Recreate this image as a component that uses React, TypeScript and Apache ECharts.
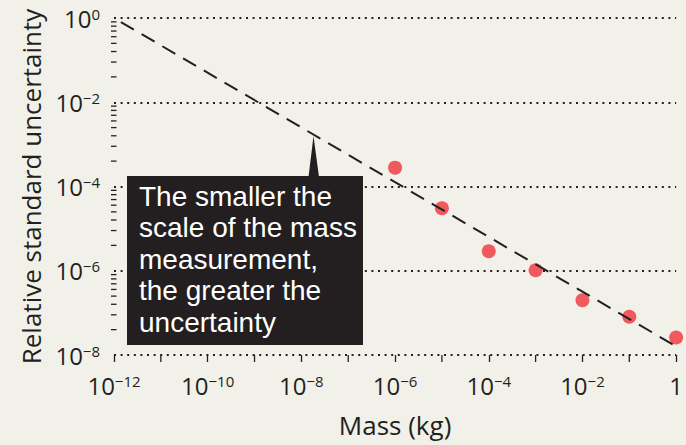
import React, { useEffect, useRef } from 'react';
import * as echarts from 'echarts';

// ---- data ----
const massKg = [1e-6, 1e-5, 1e-4, 1e-3, 1e-2, 1e-1, 1];
const relUncertainty = [2.8e-4, 3.05e-5, 2.9e-6, 1.03e-6, 2.0e-7, 8.1e-8, 2.6e-8];
const trendMass = [1e-12, 1];
const trendUncertainty = [1, 1.6e-8];
const massAxisRange = [1e-12, 1];
const uncAxisRange = [1e-8, 1];
const xOddDecadeTicks = [1e-11, 1e-9, 1e-7, 1e-5, 1e-3, 1e-1];
const yMinorTicks = [
  4e-8, 9e-8, 1.6e-7, 2.5e-7, 3.6e-7, 4.9e-7, 6.4e-7, 8.1e-7,
  4e-6, 9e-6, 1.6e-5, 2.5e-5, 3.6e-5, 4.9e-5, 6.4e-5, 8.1e-5,
  4e-4, 9e-4, 1.6e-3, 2.5e-3, 3.6e-3, 4.9e-3, 6.4e-3, 8.1e-3,
  0.04, 0.09, 0.16, 0.25, 0.36, 0.49, 0.64, 0.81,
];
const annotationLines = [
  'The smaller the',
  'scale of the mass',
  'measurement,',
  'the greater the',
  'uncertainty',
];
const xAxisName = 'Mass (kg)';
const yAxisName = 'Relative standard uncertainty';

const ink = '#231f20';
const bg = '#f2f1e9';
const dotRed = '#f05a5e';
const FONT = '"Open Sans", "Liberation Sans", Arial, sans-serif';
const NOTE_FONT = '"Liberation Sans", Arial, sans-serif';

function powLabel(v: number, oneAsPlain: boolean) {
  const e = Math.round(Math.log10(v));
  if (e === 0 && oneAsPlain) return '{b|1}';
  if (e === 0) return '{b|10}{s|0}';
  return '{b|10}{s|\u2212' + -e + '}';
}

const rich = {
  b: { fontSize: 24, fontFamily: FONT, color: ink },
  s: { fontSize: 15, fontFamily: FONT, color: ink, verticalAlign: 'top' as const },
};

export default function App() {
  const ref = useRef<HTMLDivElement>(null);
  useEffect(() => {
    document.body.style.margin = '0';
    const chart = echarts.init(ref.current!, undefined, { renderer: 'svg' });
    const option: any = {
      animation: false,
      backgroundColor: bg,
      grid: { left: 114, right: 7, top: 18, bottom: 90 },
      xAxis: {
        type: 'log',
        logBase: 100,
        min: massAxisRange[0],
        max: massAxisRange[1],
        name: xAxisName,
        nameLocation: 'middle',
        nameGap: 57,
        nameTextStyle: { fontSize: 26, fontFamily: FONT, color: ink },
        axisLine: { show: false },
        axisTick: { show: true, length: 7, lineStyle: { color: ink, width: 1.3 } },
        splitLine: { show: false },
        axisLabel: {
          margin: 18,
          formatter: (v: number) => powLabel(v, true),
          rich,
        },
      },
      yAxis: {
        type: 'log',
        logBase: 100,
        min: uncAxisRange[0],
        max: uncAxisRange[1],
        name: yAxisName,
        nameLocation: 'middle',
        nameGap: 70,
        nameTextStyle: { fontSize: 26, fontFamily: FONT, color: ink },
        axisLine: { show: false },
        axisTick: { show: false },
        splitLine: {
          show: true,
          lineStyle: { color: ink, width: 2, type: [2, 4.6] },
        },
        axisLabel: {
          margin: 14,
          formatter: (v: number) => powLabel(v, false),
          rich,
        },
      },
      series: [
        {
          type: 'custom',
          silent: true,
          clip: false,
          z: 3,
          data: yMinorTicks.map((v) => [massAxisRange[0], v]),
          renderItem: (_p: any, api: any) => {
            const p = api.coord([api.value(0), api.value(1)]);
            return {
              type: 'line',
              shape: { x1: p[0] - 3, y1: p[1], x2: p[0] + 2.5, y2: p[1] },
              style: { stroke: ink, lineWidth: 1.3 },
            };
          },
        },
        {
          type: 'custom',
          silent: true,
          clip: false,
          z: 3,
          data: xOddDecadeTicks.map((v) => [v, uncAxisRange[0]]),
          renderItem: (_p: any, api: any) => {
            const p = api.coord([api.value(0), api.value(1)]);
            return {
              type: 'line',
              shape: { x1: p[0], y1: p[1], x2: p[0], y2: p[1] + 7 },
              style: { stroke: ink, lineWidth: 1.3 },
            };
          },
        },
        {
          type: 'scatter',
          data: massKg.map((m, i) => [m, relUncertainty[i]]),
          symbol: 'circle',
          symbolSize: 14,
          itemStyle: { color: dotRed, opacity: 1 },
          z: 4,
        },
        {
          type: 'line',
          data: trendMass.map((m, i) => [m, trendUncertainty[i]]),
          symbol: 'none',
          lineStyle: { color: ink, width: 2, type: [15, 9], dashOffset: 16 },
          z: 5,
        },
      ],
      graphic: [
        {
          type: 'rect',
          z: 100,
          shape: { x: 127, y: 176, width: 236, height: 169 },
          style: { fill: ink },
        },
        {
          type: 'polygon',
          z: 100,
          shape: { points: [[308.5, 177], [319, 177], [313.5, 136]] },
          style: { fill: ink },
        },
        {
          type: 'text',
          z: 101,
          x: 139,
          y: 180.5,
          style: {
            text: annotationLines.join('\n'),
            fill: '#ffffff',
            fontSize: 28,
            fontFamily: NOTE_FONT,
            lineHeight: 31.5,
            verticalAlign: 'top',
          },
        },
      ],
    };
    chart.setOption(option);
    return () => chart.dispose();
  }, []);
  return <div ref={ref} style={{ width: 686, height: 445 }} />;
}
